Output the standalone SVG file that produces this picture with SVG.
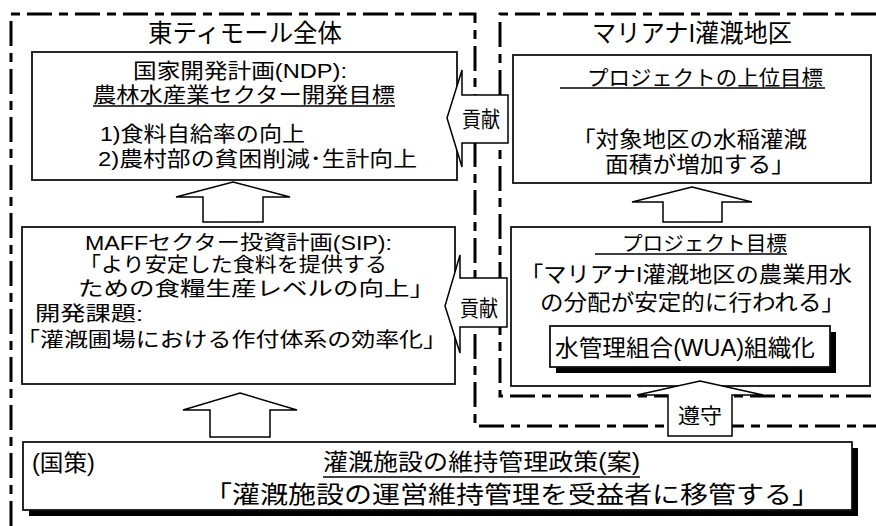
<svg xmlns="http://www.w3.org/2000/svg" width="876" height="526" viewBox="0 0 876 526">
<style>
.dash{fill:none;stroke:#000;stroke-width:3;stroke-dasharray:25 7 9 7}
.box{fill:#fff;stroke:#111;stroke-width:1.8}
.shadow{fill:#000}
.arrow{fill:#fff;stroke:#000;stroke-width:1.5;stroke-linejoin:miter}
.t{font-family:"Liberation Sans","Noto Sans CJK JP",sans-serif;fill:#000}
.ul{stroke:#000;stroke-width:1.5}
</style>
<rect width="876" height="526" fill="#fff"/>
<g id="region-east-timor">
<path class="dash" d="M11 526 V14 H475 V426 H876"/>
<text class="t" x="148" y="42" font-size="25" textLength="194" lengthAdjust="spacingAndGlyphs">東ティモール全体</text>
</g>
<g id="region-mariana">
<path class="dash" d="M876 14 H500 V396 H876"/>
<text class="t" x="592" y="42" font-size="25" textLength="200" lengthAdjust="spacingAndGlyphs">マリアナI灌漑地区</text>
</g>
<g id="node-ndp">
<rect class="box" x="32" y="52" width="425" height="128"/>
<text class="t" x="133" y="78" font-size="21" textLength="214" lengthAdjust="spacingAndGlyphs">国家開発計画(NDP):</text>
<text class="t" x="93" y="102" font-size="21" textLength="302" lengthAdjust="spacingAndGlyphs">農林水産業セクター開発目標</text>
<line class="ul" x1="93" y1="106" x2="395" y2="106"/>
<text class="t" x="100" y="141" font-size="21" textLength="205" lengthAdjust="spacingAndGlyphs">1)食料自給率の向上</text>
<text class="t" x="98" y="166" font-size="21" textLength="319" lengthAdjust="spacingAndGlyphs">2)農村部の貧困削減･生計向上</text>
</g>
<g id="node-upper-goal">
<rect class="box" x="513" y="55" width="358" height="128"/>
<text class="t" x="587" y="85" font-size="21" textLength="236" lengthAdjust="spacingAndGlyphs">プロジェクトの上位目標</text>
<line class="ul" x1="560" y1="88" x2="825" y2="88"/>
<text class="t" x="572" y="147" font-size="22" textLength="235" lengthAdjust="spacingAndGlyphs">「対象地区の水稲灌漑</text>
<text class="t" x="605" y="172" font-size="22" textLength="190" lengthAdjust="spacingAndGlyphs">面積が増加する」</text>
</g>
<g id="node-sip">
<rect class="box" x="22" y="227" width="433" height="157"/>
<text class="t" x="85" y="250" font-size="20" textLength="307" lengthAdjust="spacingAndGlyphs">MAFFセクター投資計画(SIP):</text>
<text class="t" x="79" y="272" font-size="20" textLength="308" lengthAdjust="spacingAndGlyphs">「より安定した食料を提供する</text>
<text class="t" x="78" y="296" font-size="20" textLength="357" lengthAdjust="spacingAndGlyphs">ための食糧生産レベルの向上」</text>
<text class="t" x="35" y="321" font-size="20" textLength="108" lengthAdjust="spacingAndGlyphs">開発課題:</text>
<text class="t" x="16" y="347" font-size="20" textLength="431" lengthAdjust="spacingAndGlyphs">「灌漑圃場における作付体系の効率化」</text>
</g>
<g id="node-project-goal">
<rect class="box" x="511" y="227" width="359" height="159"/>
<text class="t" x="622" y="251" font-size="20" textLength="165" lengthAdjust="spacingAndGlyphs">プロジェクト目標</text>
<line class="ul" x1="595" y1="254" x2="787" y2="254"/>
<text class="t" x="520" y="282" font-size="22" textLength="332" lengthAdjust="spacingAndGlyphs">「マリアナI灌漑地区の農業用水</text>
<text class="t" x="540" y="310" font-size="22" textLength="305" lengthAdjust="spacingAndGlyphs">の分配が安定的に行われる」</text>
</g>
<g id="node-wua">
<rect class="shadow" x="556" y="332" width="280" height="41"/>
<rect class="box" x="550" y="326" width="280" height="41" stroke="#000"/>
<text class="t" x="555" y="356" font-size="23" textLength="260" lengthAdjust="spacingAndGlyphs">水管理組合(WUA)組織化</text>
</g>
<g id="node-policy">
<rect class="shadow" x="29" y="448" width="829" height="68"/>
<rect class="box" x="23" y="442" width="829" height="68" stroke="#000"/>
<text class="t" x="32" y="471" font-size="23" textLength="63" lengthAdjust="spacingAndGlyphs">(国策)</text>
<text class="t" x="323" y="470" font-size="23" textLength="317" lengthAdjust="spacingAndGlyphs">灌漑施設の維持管理政策(案)</text>
<line class="ul" x1="323" y1="477" x2="640" y2="477"/>
<text class="t" x="204" y="503" font-size="24" textLength="616" lengthAdjust="spacingAndGlyphs">「灌漑施設の運営維持管理を受益者に移管する」</text>
</g>
<g id="connectors">
<polygon class="arrow" points="233,182 290,197 263,197 263,222 203,222 203,197 176,197"/>
<polygon class="arrow" points="240,393 297,410 270,410 270,437 210,437 210,410 183,410"/>
<polygon class="arrow" points="692,187 752,202 722,202 722,222 663,222 663,202 632,202"/>
<polygon class="arrow" points="700,381 763,395 732,395 732,436 668,436 668,395 637,395"/>
<text class="t" x="678" y="423" font-size="21" textLength="44" lengthAdjust="spacingAndGlyphs">遵守</text>
<polygon class="arrow" points="508,95 462,95 462,70 447,118 462,167 462,143 508,143"/>
<text class="t" x="462" y="127" font-size="22" textLength="38" lengthAdjust="spacingAndGlyphs">貢献</text>
<polygon class="arrow" points="507,278 460,278 460,255 445,306 460,353 460,327 507,327"/>
<text class="t" x="460" y="316" font-size="22" textLength="38" lengthAdjust="spacingAndGlyphs">貢献</text>
</g>
</svg>
